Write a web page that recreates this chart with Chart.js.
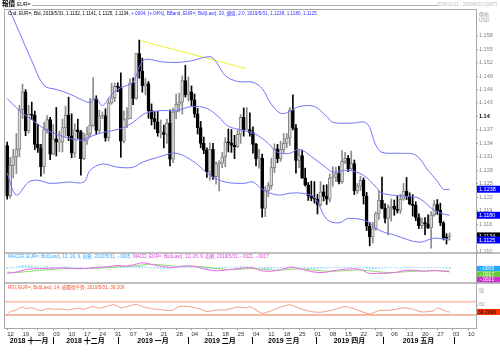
<!DOCTYPE html>
<html>
<head>
<meta charset="utf-8">
<script src="https://cdn.jsdelivr.net/npm/chart.js@4.4.1/dist/chart.umd.min.js"></script>
<style>
  html, body { margin: 0; padding: 0; background: #fff; }
  #wrap { position: relative; width: 500px; height: 352px; }
</style>
</head>
<body>
<div id="wrap"><canvas id="chart" width="500" height="352"></canvas></div>
<script>
// daily EUR= candles, index 0 = 2018/11/12 (Mon), one slot per weekday
var opens = [1.1335,1.1223,1.1291,1.1310,1.1327, 1.1415,1.1455,1.1368,1.1405,1.1403, 1.1338,1.1330,1.1288,1.1371,1.1393,
  1.1316,1.1350,1.1343,1.1343,1.1375, 1.1403,1.1357,1.1318,1.1370,1.1366, 1.1306,1.1347,1.1361,1.1380,1.1440,
  1.1369,1.1401,1.1402,1.1353,1.1430, 1.1442,1.1467,1.1465,1.1345,1.1393, 1.1395,1.1475,1.1440,1.1540,1.1501,
  1.1468,1.1473,1.1413,1.1395,1.1388, 1.1364,1.1364,1.1360,1.1385,1.1305, 1.1410,1.1427,1.1432,1.1480,1.1448,
  1.1455,1.1437,1.1406,1.1375,1.1340, 1.1325,1.1276,1.1327,1.1266,1.1295, 1.1296,1.1310,1.1343,1.1341,1.1336,
  1.1333,1.1360,1.1398,1.1370,1.1371, 1.1364,1.1338,1.1306,1.1307,1.1195, 1.1235,1.1246,1.1286,1.1328,1.1306,
  1.1326,1.1340,1.1352,1.1415,1.1374, 1.1302,1.1313,1.1263,1.1248,1.1223, 1.1218,1.1216,1.1203,1.1232,1.1222,
  1.1216,1.1263,1.1264,1.1273,1.1254, 1.1300,1.1307,1.1283,1.1295,1.1234, 1.1245,1.1258,1.1223,1.1156,1.1132,
  1.1150,1.1184,1.1214,1.1196,1.1173, 1.1197,1.1200,1.1193,1.1191,1.1216, 1.1234,1.1223,1.1205,1.1202,1.1175,
  1.1157,1.1164,1.1161,1.1152,1.1181, 1.1204,1.1191,1.1163,1.1130,1.1132];
var highs = [1.1343,1.1309,1.1327,1.1362,1.1425, 1.1472,1.1460,1.1425,1.1432,1.1412, 1.1383,1.1338,1.1387,1.1402,1.1398,
  1.1382,1.1420,1.1367,1.1394,1.1423, 1.1443,1.1406,1.1384,1.1394,1.1369, 1.1363,1.1377,1.1440,1.1486,1.1446,
  1.1414,1.1410,1.1417,1.1440,1.1474, 1.1474,1.1475,1.1497,1.1412,1.1420, 1.1484,1.1486,1.1541,1.1570,1.1530,
  1.1485,1.1478,1.1428,1.1411,1.1411, 1.1392,1.1381,1.1394,1.1415,1.1418, 1.1450,1.1452,1.1490,1.1514,1.1488,
  1.1468,1.1450,1.1418,1.1389,1.1354, 1.1330,1.1341,1.1340,1.1299,1.1302, 1.1320,1.1353,1.1372,1.1371,1.1358,
  1.1370,1.1404,1.1419,1.1420,1.1408, 1.1377,1.1340,1.1327,1.1316,1.1244, 1.1253,1.1307,1.1339,1.1338,1.1345,
  1.1362,1.1362,1.1420,1.1448,1.1382, 1.1326,1.1325,1.1285,1.1253,1.1256, 1.1255,1.1227,1.1255,1.1247,1.1248,
  1.1272,1.1288,1.1287,1.1289,1.1324, 1.1320,1.1313,1.1323,1.1303,1.1251, 1.1267,1.1263,1.1231,1.1164,1.1164,
  1.1187,1.1235,1.1265,1.1206,1.1204, 1.1216,1.1214,1.1222,1.1227,1.1251, 1.1264,1.1230,1.1226,1.1210,1.1183,
  1.1174,1.1175,1.1181,1.1188,1.1213, 1.1215,1.1207,1.1166,1.1139,1.1141];
var lows = [1.1216,1.1218,1.1263,1.1273,1.1310, 1.1395,1.1357,1.1363,1.1393,1.1326, 1.1320,1.1267,1.1273,1.1363,1.1304,
  1.1315,1.1312,1.1322,1.1321,1.1356, 1.1346,1.1308,1.1309,1.1351,1.1269, 1.1304,1.1338,1.1354,1.1378,1.1360,
  1.1363,1.1395,1.1345,1.1345,1.1427, 1.1433,1.1455,1.1309,1.1341,1.1375, 1.1395,1.1426,1.1438,1.1485,1.1454,
  1.1448,1.1396,1.1381,1.1372,1.1356, 1.1352,1.1330,1.1340,1.1290,1.1297, 1.1395,1.1410,1.1405,1.1443,1.1434,
  1.1424,1.1398,1.1361,1.1330,1.1317, 1.1264,1.1258,1.1260,1.1249,1.1234, 1.1286,1.1288,1.1321,1.1320,1.1306,
  1.1331,1.1340,1.1356,1.1370,1.1356, 1.1318,1.1290,1.1285,1.1176,1.1177, 1.1221,1.1238,1.1275,1.1297,1.1300,
  1.1318,1.1330,1.1335,1.1370,1.1274, 1.1286,1.1262,1.1245,1.1213,1.1212, 1.1207,1.1183,1.1200,1.1212,1.1204,
  1.1210,1.1245,1.1255,1.1250,1.1251, 1.1295,1.1277,1.1282,1.1226,1.1228, 1.1235,1.1205,1.1146,1.1112,1.1118,
  1.1146,1.1171,1.1194,1.1163,1.1136, 1.1167,1.1180,1.1185,1.1184,1.1213, 1.1215,1.1203,1.1178,1.1168,1.1150,
  1.1150,1.1137,1.1150,1.1107,1.1178, 1.1182,1.1157,1.1125,1.1116,1.1125];
var closes = [1.1223,1.1291,1.1310,1.1327,1.1415, 1.1455,1.1368,1.1405,1.1403,1.1338, 1.1330,1.1288,1.1371,1.1393,1.1316,
  1.1350,1.1343,1.1343,1.1375,1.1403, 1.1357,1.1318,1.1370,1.1366,1.1306, 1.1347,1.1361,1.1380,1.1440,1.1369,
  1.1401,1.1402,1.1353,1.1430,1.1442, 1.1467,1.1465,1.1345,1.1393,1.1395, 1.1475,1.1440,1.1540,1.1501,1.1468,
  1.1473,1.1413,1.1395,1.1388,1.1364, 1.1364,1.1360,1.1385,1.1305,1.1410, 1.1427,1.1432,1.1480,1.1448,1.1455,
  1.1437,1.1406,1.1375,1.1340,1.1325, 1.1276,1.1327,1.1266,1.1295,1.1296, 1.1310,1.1343,1.1341,1.1336,1.1333,
  1.1360,1.1398,1.1370,1.1371,1.1364, 1.1338,1.1306,1.1307,1.1195,1.1235, 1.1246,1.1286,1.1328,1.1306,1.1326,
  1.1340,1.1352,1.1415,1.1374,1.1302, 1.1313,1.1263,1.1248,1.1223,1.1218, 1.1216,1.1203,1.1232,1.1222,1.1216,
  1.1263,1.1264,1.1273,1.1254,1.1300, 1.1307,1.1283,1.1295,1.1234,1.1245, 1.1258,1.1223,1.1156,1.1132,1.1150,
  1.1184,1.1214,1.1196,1.1173,1.1197, 1.1200,1.1193,1.1191,1.1216,1.1234, 1.1223,1.1205,1.1202,1.1175,1.1157,
  1.1164,1.1161,1.1152,1.1181,1.1204, 1.1191,1.1163,1.1130,1.1129,1.1134];

// Bollinger band (20, 2.0): [day index, value]
var bbUpper = [[0,1.1650],[4,1.1587],[8,1.1524],[12,1.1469],[16,1.1460],[20,1.1451],[24,1.1438],[27,1.1431],[29,1.1440],
  [31,1.1424],[34,1.1449],[37,1.1464],[41,1.1476],[43,1.1511],[45,1.1527],[50,1.1522],[55,1.1520],[60,1.1524],[66,1.1533],
  [68,1.1522],[71,1.1491],[75,1.1478],[80,1.1476],[83,1.1462],[86,1.1427],[89,1.1407],[92,1.1411],[95,1.1422],[100,1.1422],
  [104,1.1400],[106,1.1387],[112,1.1385],[117,1.1385],[120,1.1336],[122,1.1320],[128,1.1318],[133,1.1314],[137,1.1280],
  [140,1.1256],[142,1.1238],[144,1.1238]];
var bbMiddle = [[0,1.1440],[4,1.1413],[8,1.1393],[12,1.1373],[17,1.1358],[24,1.1347],[27,1.1355],[31,1.1364],[37,1.1373],
  [41,1.1387],[45,1.1407],[50,1.1413],[55,1.1413],[60,1.1422],[65,1.1418],[69,1.1398],[72,1.1378],[77,1.1369],[81,1.1360],
  [85,1.1340],[88,1.1320],[92,1.1318],[95,1.1327],[99,1.1311],[104,1.1285],[106,1.1276],[111,1.1280],[116,1.1269],
  [120,1.1243],[122,1.1229],[130,1.1222],[134,1.1218],[139,1.1191],[142,1.1183],[144,1.1180]];
var bbLower = [[0,1.1274],[3,1.1225],[7,1.1254],[10,1.1258],[14,1.1251],[20,1.1254],[25,1.1254],[27,1.1280],[31,1.1294],
  [36,1.1287],[41,1.1287],[44,1.1298],[49,1.1309],[55,1.1318],[61,1.1298],[66,1.1269],[71,1.1254],[77,1.1251],[80,1.1254],
  [83,1.1238],[88,1.1225],[92,1.1229],[96,1.1229],[100,1.1220],[104,1.1171],[108,1.1163],[111,1.1173],[117,1.1167],
  [121,1.1147],[126,1.1136],[134,1.1120],[139,1.1129],[144,1.1125]];
var trendLine = [[43.3,1.1569],[77.5,1.1507]];

// MACD (12,26,9) lines: [day index, MACD, signal]
var macdLines = [[0,-0.0028,-0.0022],[3,-0.0022,-0.0024],[6,-0.0010,-0.0020],[9,-0.0006,-0.0016],[12,-0.0005,-0.0012],
  [15,-0.0003,-0.0009],[18,-0.0002,-0.0006],[21,-0.0004,-0.0005],[24,-0.0006,-0.0005],[27,-0.0003,-0.0005],
  [30,0.0001,-0.0003],[33,0.0004,-0.0001],[36,0.0010,0.0003],[39,0.0006,0.0005],[42,0.0016,0.0008],[44,0.0022,0.0012],
  [46,0.0018,0.0015],[49,0.0008,0.0014],[52,0.0002,0.0010],[54,0.0000,0.0007],[57,0.0006,0.0005],[59,0.0008,0.0006],
  [62,0.0002,0.0005],[65,-0.0010,0.0001],[68,-0.0016,-0.0005],[71,-0.0012,-0.0009],[74,-0.0008,-0.0010],
  [77,-0.0002,-0.0007],[80,-0.0002,-0.0005],[83,-0.0016,-0.0008],[86,-0.0018,-0.0012],[89,-0.0010,-0.0013],
  [92,0.0000,-0.0009],[94,-0.0002,-0.0007],[97,-0.0012,-0.0008],[100,-0.0022,-0.0013],[103,-0.0024,-0.0017],
  [106,-0.0016,-0.0018],[109,-0.0010,-0.0016],[112,-0.0006,-0.0013],[115,-0.0010,-0.0012],[118,-0.0028,-0.0016],
  [121,-0.0028,-0.0021],[124,-0.0027,-0.0024],[127,-0.0022,-0.0023],[130,-0.0013,-0.0020],[133,-0.0014,-0.0018],
  [136,-0.0018,-0.0017],[139,-0.0014,-0.0016],[142,-0.0018,-0.0016],[144,-0.0021,-0.0017]];
// MACDF histogram, one per day
var macdHist = [-0.0005,-0.0002,0.0001,0.0003,0.0007, 0.0010,0.0008,0.0008,0.0007,0.0004, 0.0003,0.0001,0.0003,0.0004,0.0001,
  0.0002,0.0001,0.0001,0.0002,0.0003, 0.0002,0.0000,0.0001,0.0001,-0.0001, 0.0000,0.0000,0.0001,0.0003,0.0001,
  0.0002,0.0002,0.0000,0.0002,0.0003, 0.0004,0.0004,0.0001,0.0001,0.0001, 0.0003,0.0002,0.0005,0.0005,0.0004,
  0.0003,0.0001,-0.0001,-0.0002,-0.0003, -0.0003,-0.0004,-0.0003,-0.0005,-0.0002, -0.0001,0.0000,0.0002,0.0002,0.0002,
  0.0001,0.0000,-0.0002,-0.0003,-0.0004, -0.0006,-0.0005,-0.0006,-0.0005,-0.0004, -0.0003,-0.0001,0.0000,0.0000,0.0001,
  0.0002,0.0004,0.0004,0.0003,0.0003, 0.0002,0.0000,-0.0001,-0.0005,-0.0006, -0.0006,-0.0004,-0.0002,-0.0002,-0.0001,
  0.0000,0.0001,0.0004,0.0004,0.0001, 0.0000,-0.0002,-0.0003,-0.0005,-0.0005, -0.0005,-0.0005,-0.0004,-0.0003,-0.0003,
  -0.0001,0.0000,0.0001,0.0001,0.0002, 0.0003,0.0002,0.0002,0.0000,-0.0001, -0.0001,-0.0002,-0.0005,-0.0007,-0.0007,
  -0.0005,-0.0003,-0.0002,-0.0002,-0.0001, 0.0000,0.0000,0.0000,0.0001,0.0002, 0.0002,0.0002,0.0001,0.0000,-0.0001,
  -0.0001,-0.0001,-0.0002,-0.0001,0.0000, 0.0001,0.0000,-0.0002,-0.0004,-0.0005];

// RSI (14): [day index, value]
var rsiPoints = [[0,32],[1,40],[3,45],[5,54],[6,49],[8,51.5],[11,43],[13,49],[15,47.5],[18,47.5],[20,45],[23,50.6],[25,47.5],
  [28,55.5],[30,50.6],[33,57.7],[35,60.8],[37,51.5],[39,55.5],[42,61.7],[44,55.5],[47,49],[51,45],[53,43],[54,45],[56,55.5],
  [59,55.5],[63,47.5],[65,40],[68,45],[71,45],[75,53.7],[78,51.5],[79,55.5],[83,35],[86,43],[89,53.7],[92,60.8],[95,50.6],
  [99,40],[102,38.3],[105,43],[107,47.5],[110,55.5],[114,45],[118,33],[121,43],[125,45],[129,51.5],[132,47.5],[135,39.2],
  [139,43],[140,51.5],[143,40],[144,39.2]];
var rsiBands = [70, 30];

// axis labels
var priceTicks = [1.158,1.155,1.152,1.149,1.146,1.143,1.14,1.137,1.134,1.131,1.128,1.125,1.122,1.119,1.116,1.113,1.11];
var rsiTicks = [60, 40];
var weekTickIdx = [0,5,10,15,20,25,30,35,40,45,50,55,60,65,70,75,80,85,90,95,100,105,110,115,120,125,130,135,140,145,150];
var weekTickLabels = ['12','19','26','03','10','17','24','31','07','14','21','28','04','11','18','25',
  '04','11','18','25','01','08','15','22','29','06','13','20','27','03','10'];
var monthLabels = ['2018 十一月','2018 十二月','2019 一月','2019 二月','2019 三月','2019 四月','2019 五月'];
var monthStartIdx = [-0.7,15,36,59,79.6,100.5,122.3,145.5];
var lastValues = [1.1238, 1.1180, 1.1134, 1.1125];
var macdLast = [-0.0005, -0.0017, -0.0021];
var rsiLast = 39.2099;

var FONT = '"Liberation Sans", "Noto Sans CJK TC", sans-serif';

function pts(arr, k) {
  return arr.map(function (p) { return {x: p[0], y: p[k || 1]}; });
}
var isUp = function (i) { return closes[i] >= opens[i]; };
var isBold = function (c) { return !!(c && c.tick && c.tick.value === 1.14); };

var wicks = lows.map(function (l, i) { return {x: i, y: [l, highs[i]]}; });
var bodies = opens.map(function (o, i) { return {x: i, y: [o, closes[i]]}; });
var histBars = macdHist.map(function (v, i) { return {x: i, y: v}; });

function bandSet(data, color) {
  return {type: 'line', data: data, yAxisID: 'y', borderColor: color, borderWidth: 1,
    pointRadius: 0, tension: 0.35, fill: false, order: 0};
}

var overlay = {
  id: 'overlay',
  beforeDraw: function (chart) {
    var ctx = chart.ctx;
    ctx.save();
    ctx.fillStyle = '#fff';
    ctx.fillRect(0, 0, chart.width, chart.height);
    ctx.restore();
  },
  afterDraw: function (chart) {
    var ctx = chart.ctx, a = chart.chartArea;
    var xs = chart.scales.x, ys = chart.scales.y, ms = chart.scales.macd, rs = chart.scales.rsi;
    ctx.save();

    // header
    ctx.fillStyle = '#000';
    ctx.font = 'bold 6.5px ' + FONT;
    ctx.textBaseline = 'middle';
    ctx.fillText('報價', 2, 4);
    ctx.font = '5px ' + FONT;
    ctx.fillText('EUR=', 17, 4.5);
    ctx.strokeStyle = '#b0b0b0';
    ctx.beginPath(); ctx.moveTo(32, 5.5); ctx.lineTo(438, 5.5); ctx.stroke();
    ctx.fillStyle = '#b8b8b8';
    ctx.font = '4.5px ' + FONT;
    ctx.textAlign = 'right';
    ctx.fillText('2018/11/12 - 2019/6/12 (GMT)', 497, 5);
    ctx.textAlign = 'left';

    // panel frames
    ctx.strokeStyle = '#a8a8a8';
    ctx.lineWidth = 1;
    ctx.strokeRect(a.left - 0.5, a.top - 0.5, a.right - a.left + 1, a.bottom - a.top + 1);
    ctx.lineWidth = 1.5;
    [ys.bottom, ms.bottom].forEach(function (yy) {
      ctx.beginPath(); ctx.moveTo(a.left, yy); ctx.lineTo(a.right + 24, yy); ctx.stroke();
    });

    // panel captions
    function caption(parts, x, y) {
      ctx.font = '4.6px ' + FONT;
      parts.forEach(function (p) {
        ctx.fillStyle = p[1];
        ctx.fillText(p[0], x, y);
        x += ctx.measureText(p[0]).width;
      });
    }
    caption([['Cnd, EUR=, Bid, 2019/5/31, 1.1132, 1.1141, 1.1125, 1.1134, ', '#000'],
      ['+.0004, (+.04%), BBand, EUR=, Bid(Last), 20, 通道, 2.0, 2019/5/31, 1.1238, 1.1180, 1.1125', '#3030ff']],
      8, a.top + 3.5);
    caption([['MACDF, EUR=, Bid(Last), 12, 26, 9, 指數, 2019/5/31, -.0005, ', '#33aaff'],
      ['MACD, EUR=, Bid(Last), 12, 26, 9, 指數, 2019/5/31, -.0021, -.0017', '#e040e0']],
      8, ys.bottom + 4);
    caption([['RSI, EUR=, Bid(Last), 14, 威爾德平滑, 2019/5/31, 39.209', '#ff5030']], 8, ms.bottom + 4.5);

    // axis units
    ctx.fillStyle = '#9a9a9a';
    ctx.font = '5px ' + FONT;
    ctx.fillText('價格', 479, a.top + 5);
    ctx.fillText('USD', 479, a.top + 11);
    ctx.fillText('值', 479, ms.bottom + 8);

    // last value boxes
    var boxFill = ['#0000ff', '#0000ff', '#000000', '#0000ff'];
    ctx.font = '5.5px ' + FONT;
    lastValues.forEach(function (v, k) {
      var py = ys.getPixelForValue(v);
      ctx.fillStyle = boxFill[k];
      ctx.fillRect(477, py - 3.5, 23, 7);
      ctx.fillStyle = '#fff';
      ctx.fillText(v.toFixed(4), 479, py + 0.5);
    });
    var macdFill = ['#22aaff', '#66cc33', '#cc33cc'];
    var prev = -99;
    ctx.font = '5px ' + FONT;
    macdLast.forEach(function (v, k) {
      var py = Math.max(ms.getPixelForValue(v), prev + 5.5);
      prev = py;
      ctx.fillStyle = macdFill[k];
      ctx.fillRect(477, py - 2.7, 23, 5.5);
      ctx.fillStyle = '#fff';
      ctx.fillText(v.toFixed(4).replace('0.', '.'), 480, py + 0.3);
    });
    var ry = rs.getPixelForValue(rsiLast);
    ctx.fillStyle = '#ff3300';
    ctx.fillRect(477, ry - 3, 23, 6);
    ctx.fillStyle = '#000';
    ctx.fillText(rsiLast.toFixed(4), 478, ry + 0.5);

    // month row
    ctx.font = 'bold 7px ' + FONT;
    ctx.textAlign = 'center';
    ctx.fillStyle = '#000';
    for (var m = 0; m < monthLabels.length; m++) {
      var x0 = Math.max(xs.getPixelForValue(monthStartIdx[m]), a.left);
      var x1 = xs.getPixelForValue(monthStartIdx[m + 1]);
      ctx.fillText(monthLabels[m], (x0 + x1) / 2, 341);
      ctx.fillRect(Math.round(x1), 337, 1, 7);
    }
    ctx.restore();
  }
};

new Chart(document.getElementById('chart'), {
  type: 'bar',
  data: {
    datasets: [
      {data: wicks, yAxisID: 'y', grouped: false, barThickness: 1, order: 3,
        backgroundColor: function (c) { return isUp(c.dataIndex) ? '#8c8c8c' : '#000'; }},
      {data: bodies, yAxisID: 'y', grouped: false, barThickness: 3, minBarLength: 1, order: 2,
        borderWidth: 1, borderSkipped: false,
        backgroundColor: function (c) { return isUp(c.dataIndex) ? '#dcdcdc' : '#000'; },
        borderColor: function (c) { return isUp(c.dataIndex) ? '#808080' : '#000'; }},
      bandSet(pts(bbUpper), '#7474ff'),
      bandSet(pts(bbMiddle), '#7474ff'),
      bandSet(pts(bbLower), '#7474ff'),
      {type: 'line', data: pts(trendLine), yAxisID: 'y', borderColor: '#f0f030', borderWidth: 1,
        pointRadius: 0, order: 0},
      {data: histBars, yAxisID: 'macd', grouped: false, barThickness: 1, order: 3,
        backgroundColor: '#7fd0ff'},
      {type: 'line', data: pts(macdLines, 1), yAxisID: 'macd', borderColor: '#ee66ee', borderWidth: 1,
        pointRadius: 0, tension: 0.35, order: 0},
      {type: 'line', data: pts(macdLines, 2), yAxisID: 'macd', borderColor: '#88dd66', borderWidth: 1,
        pointRadius: 0, tension: 0.35, order: 0},
      {type: 'line', data: [{x: -0.7, y: rsiBands[0]}, {x: 152.6, y: rsiBands[0]}], yAxisID: 'rsi',
        borderColor: '#fbc8b8', borderWidth: 2, pointRadius: 0, order: 1},
      {type: 'line', data: [{x: -0.7, y: rsiBands[1]}, {x: 152.6, y: rsiBands[1]}], yAxisID: 'rsi',
        borderColor: '#f6a088', borderWidth: 1.5, pointRadius: 0, order: 1},
      {type: 'line', data: pts(rsiPoints), yAxisID: 'rsi', borderColor: '#f49a80', borderWidth: 1,
        pointRadius: 0, tension: 0.2, order: 0}
    ]
  },
  options: {
    responsive: false,
    animation: false,
    layout: {padding: {left: 5, top: 10, right: 0, bottom: 0}},
    plugins: {legend: {display: false}, tooltip: {enabled: false}},
    scales: {
      x: {
        type: 'linear', min: -0.7, max: 152.6, position: 'bottom', offset: false,
        afterBuildTicks: function (s) { s.ticks = weekTickIdx.map(function (v) { return {value: v}; }); },
        afterFit: function (s) { s.height = 24; },
        grid: {drawOnChartArea: false, offset: false, tickLength: 2, color: '#888'},
        border: {color: '#a8a8a8'},
        ticks: {
          autoSkip: false, maxRotation: 0, align: 'start', padding: 1, color: '#333',
          font: {size: 6, family: FONT},
          callback: function (v, i) { return weekTickLabels[i]; }
        }
      },
      y: {
        type: 'linear', position: 'right', stack: 'panels', stackWeight: 243, min: 1.1096, max: 1.1637,
        afterBuildTicks: function (s) { s.ticks = priceTicks.map(function (v) { return {value: v}; }); },
        afterFit: function (s) { s.width = 24; },
        grid: {drawOnChartArea: false, tickLength: 2, color: '#999'},
        border: {color: '#a8a8a8'},
        ticks: {
          autoSkip: false, padding: 1,
          color: function (c) { return isBold(c) ? '#000' : '#808080'; },
          font: function (c) { return {size: 5.5, family: FONT, weight: isBold(c) ? 'bold' : 'normal'}; },
          callback: function (v) { return v === 1.14 ? '1.14' : v.toFixed(3); }
        }
      },
      macd: {
        type: 'linear', position: 'right', stack: 'panels', stackWeight: 30, min: -0.0074, max: 0.0069,
        afterFit: function (s) { s.width = 24; },
        grid: {display: false}, border: {color: '#a8a8a8'}, ticks: {display: false}
      },
      rsi: {
        type: 'linear', position: 'right', stack: 'panels', stackWeight: 45, min: -9, max: 126,
        afterBuildTicks: function (s) { s.ticks = rsiTicks.map(function (v) { return {value: v}; }); },
        afterFit: function (s) { s.width = 24; },
        grid: {drawOnChartArea: false, tickLength: 2, color: '#999'},
        border: {color: '#a8a8a8'},
        ticks: {autoSkip: false, padding: 1, color: '#9a9a9a', font: {size: 5, family: FONT}}
      }
    }
  },
  plugins: [overlay]
});
</script>
</body>
</html>
